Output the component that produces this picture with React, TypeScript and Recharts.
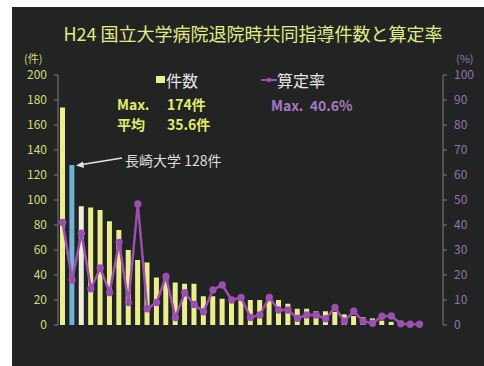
import React from "react";
import { ComposedChart, Bar, Line, XAxis, YAxis, Cell } from "recharts";

// 病院ごとの退院時共同指導件数（件）と算定率（%）
const hospitals = Array.from({ length: 41 }, (_, i) => `${i + 1}`);
const counts = [
  174, 128, 95, 94, 92, 83, 76, 60, 52, 50, 38, 37, 34, 33, 33, 23, 23, 21, 21, 21,
  20, 20, 21, 20, 17, 13, 13, 11, 11, 10.5, 8.5, 7.2, 6.2, 5.3, 3.5, 2.5, 0, 0, 0,
];
const rates = [
  41, 18, 36.7, 14.5, 22.8, 13, 33, 9, 48.4, 6.5, 9, 19.4, 3, 12.9, 8.2, 5.3, 14, 16, 10, 11,
  3, 4, 11, 6, 6, 2.7, 4, 4, 2.5, 7, 1.5, 5.5, 1.5, 0.7, 3.5, 3.6, 0.5, 0.3, 0.3,
];
const countTicks = [0, 20, 40, 60, 80, 100, 120, 140, 160, 180, 200];
const rateTicks = [0, 10, 20, 30, 40, 50, 60, 70, 80, 90, 100];

const NAGASAKI = 1; // 長崎大学
const PALE = 2;

const YELLOW = "#ebee8e";
const PURPLE = "#9c4fae";
const FONT = "'Noto Sans CJK JP', 'Noto Sans', sans-serif";

const data = hospitals.map((name, i) => ({
  name,
  count: i < counts.length ? counts[i] : null,
  rate: i < rates.length ? rates[i] : null,
}));

const abs = (left: number, top: number, extra: React.CSSProperties = {}): React.CSSProperties => ({
  position: "absolute",
  left,
  top,
  whiteSpace: "nowrap",
  fontFamily: FONT,
  lineHeight: 1,
  ...extra,
});

export default function App() {
  return (
    <div style={{ position: "absolute", left: 0, top: 0, width: 484, height: 366, background: "#ffffff", overflow: "hidden" }}>
      <div style={{ position: "absolute", left: 12, top: 7, right: 0, bottom: 0, background: "#212422" }} />

      <ComposedChart
        width={484}
        height={366}
        data={data}
        margin={{ top: 75, right: 0, bottom: 41, left: 0 }}
        style={{ position: "absolute", left: 0, top: 0 }}
      >
        <XAxis
          dataKey="name"
          height={0}
          tick={false}
          tickSize={3}
          axisLine={{ stroke: "#7d807c" }}
          tickLine={{ stroke: "#7d807c" }}
        />
        <YAxis
          yAxisId="left"
          width={58}
          domain={[0, 200]}
          ticks={countTicks}
          interval={0}
          tickSize={4}
          tickMargin={7}
          axisLine={{ stroke: "#7d807c" }}
          tickLine={{ stroke: "#7d807c" }}
          tick={{ fill: "#d3dc7c", fontSize: 12, fontFamily: FONT }}
        />
        <YAxis
          yAxisId="right"
          orientation="right"
          width={41}
          domain={[0, 100]}
          ticks={rateTicks}
          interval={0}
          tickSize={4}
          tickMargin={7}
          axisLine={{ stroke: "#7d807c" }}
          tickLine={{ stroke: "#7d807c" }}
          tick={{ fill: "#9a70b2", fontSize: 12, fontFamily: FONT }}
        />
        <Bar yAxisId="left" dataKey="count" barSize={5} isAnimationActive={false}>
          {data.map((_, i) => (
            <Cell key={i} fill={i === NAGASAKI ? "#6fb3d5" : i === PALE ? "#efeedb" : YELLOW} />
          ))}
        </Bar>
        <Line
          yAxisId="right"
          dataKey="rate"
          stroke={PURPLE}
          strokeWidth={2.5}
          dot={{ r: 2.4, fill: PURPLE, stroke: PURPLE }}
          isAnimationActive={false}
        />
      </ComposedChart>

      {/* タイトル */}
      <div style={abs(63, 24, { fontSize: 18, color: "#e3ea86", width: 380, textAlign: "center" })}>
        H24 国立大学病院退院時共同指導件数と算定率
      </div>

      {/* 軸単位 */}
      <div style={abs(24, 53, { fontSize: 11, color: "#d3dc7c" })}>(件)</div>
      <div style={abs(456, 53, { fontSize: 11, color: "#9a70b2" })}>(%)</div>

      {/* 凡例 */}
      <div style={abs(156, 76, { width: 9, height: 7, background: YELLOW })} />
      <div style={abs(166, 72, { fontSize: 16, color: "#e6e6e2" })}>件数</div>
      <svg style={{ position: "absolute", left: 261, top: 76 }} width={16} height={8}>
        <line x1={0} y1={4} x2={16} y2={4} stroke={PURPLE} strokeWidth={2} />
        <circle cx={8} cy={4} r={2.3} fill={PURPLE} />
      </svg>
      <div style={abs(277, 72, { fontSize: 16, color: "#e6e6e2" })}>算定率</div>

      {/* 集計値 */}
      <div style={abs(117, 97, { fontSize: 14, fontWeight: 700, color: "#e3ea6e" })}>Max.</div>
      <div style={abs(167, 97, { fontSize: 14, fontWeight: 700, color: "#e3ea6e" })}>174件</div>
      <div style={abs(117, 117, { fontSize: 14, fontWeight: 700, color: "#e3ea6e" })}>平均</div>
      <div style={abs(167, 117, { fontSize: 14, fontWeight: 700, color: "#e3ea6e" })}>35.6件</div>
      <div style={abs(271, 98, { fontSize: 14, fontWeight: 700, color: "#a878bf" })}>Max.&nbsp;&nbsp;40.6%</div>

      {/* 長崎大学の注記 */}
      <div style={abs(125, 153, { fontSize: 14, color: "#dedede" })}>長崎大学 128件</div>
      <svg style={{ position: "absolute", left: 74, top: 152 }} width={50} height={18}>
        <line x1={48} y1={6} x2={5} y2={13} stroke="#e4e4e4" strokeWidth={1.5} />
        <polygon points="2,13.5 9,9.5 10,16" fill="#e4e4e4" />
      </svg>
    </div>
  );
}
